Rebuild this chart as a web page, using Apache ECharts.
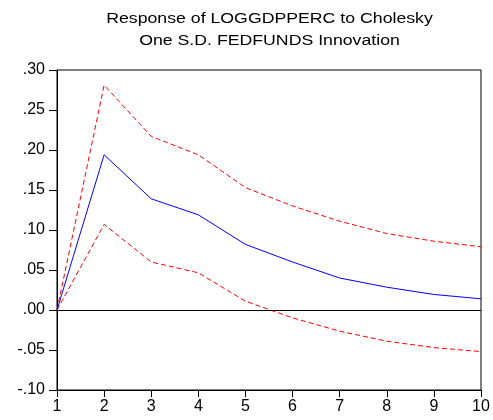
<!DOCTYPE html>
<html>
<head>
<meta charset="utf-8">
<script src="https://cdn.jsdelivr.net/npm/echarts@6/dist/echarts.min.js"></script>
<style>
  html, body { margin: 0; padding: 0; background: #fff; }
  #chart { width: 493px; height: 420px; }
</style>
</head>
<body>
<div id="chart"></div>
<script>
// Impulse response horizon (periods)
const periods = [1, 2, 3, 4, 5, 6, 7, 8, 9, 10];
// Response of LOGGDPPERC to a one S.D. FEDFUNDS shock
const response = [0.000, 0.194, 0.139, 0.119, 0.082, 0.060, 0.040, 0.0285, 0.0194, 0.014];
// +/- 2 S.E. bands
const upperBand = [0.000, 0.281, 0.217, 0.194, 0.153, 0.130, 0.111, 0.0956, 0.086, 0.079];
const lowerBand = [0.000, 0.107, 0.060, 0.0465, 0.011, -0.0098, -0.0265, -0.039, -0.047, -0.052];

const titleLines = ['Response of LOGGDPPERC to Cholesky', 'One S.D. FEDFUNDS Innovation'];

const font = "'Liberation Sans', Arial, sans-serif";
const pairs = arr => periods.map((p, i) => [p, arr[i]]);

// Two-line heading, slightly widened type
const titleGraphics = titleLines.map((line, i) => ({
  type: 'text',
  x: 269.5,
  y: 18.8 + i * 21.8,
  scaleX: 1.15,
  silent: true,
  style: {
    text: line, x: 0, y: 0,
    fontFamily: font, fontSize: 15.4, fill: '#000',
    textAlign: 'center', textVerticalAlign: 'middle'
  }
}));

const chart = echarts.init(document.getElementById('chart'), null, { renderer: 'canvas' });
chart.setOption({
  animation: false,
  backgroundColor: '#ffffff',
  graphic: titleGraphics,
  grid: {
    left: 57, right: 12, top: 70, height: 320,
    show: true, borderColor: '#000', borderWidth: 1, backgroundColor: 'transparent'
  },
  xAxis: {
    type: 'value', min: 1, max: 10, interval: 1,
    axisLine: { show: true, onZero: false, lineStyle: { color: '#000', width: 1 } },
    axisTick: { show: true, length: 7, lineStyle: { color: '#000' } },
    axisLabel: { color: '#000', fontFamily: font, fontSize: 16, margin: 9 },
    splitLine: { show: false }
  },
  yAxis: {
    type: 'value', min: -0.1, max: 0.3, interval: 0.05,
    axisLine: { show: true, onZero: false, lineStyle: { color: '#000', width: 1 } },
    axisTick: { show: true, length: 8, lineStyle: { color: '#000' } },
    axisLabel: {
      color: '#000', fontFamily: font, fontSize: 16, margin: 12,
      formatter: v => v.toFixed(2).replace('0.', '.')
    },
    splitLine: { show: false }
  },
  series: [
    {
      type: 'line', data: pairs(upperBand), symbol: 'none',
      lineStyle: { color: '#ff0000', width: 1, type: [5, 3] }
    },
    {
      type: 'line', data: pairs(lowerBand), symbol: 'none',
      lineStyle: { color: '#ff0000', width: 1, type: [5, 3] }
    },
    {
      type: 'line', data: pairs(response), symbol: 'none',
      lineStyle: { color: '#0000ff', width: 1 },
      markLine: {
        silent: true, symbol: 'none', label: { show: false },
        lineStyle: { color: '#000', width: 1, type: 'solid' },
        data: [{ yAxis: 0 }]
      }
    }
  ]
});
</script>
</body>
</html>
